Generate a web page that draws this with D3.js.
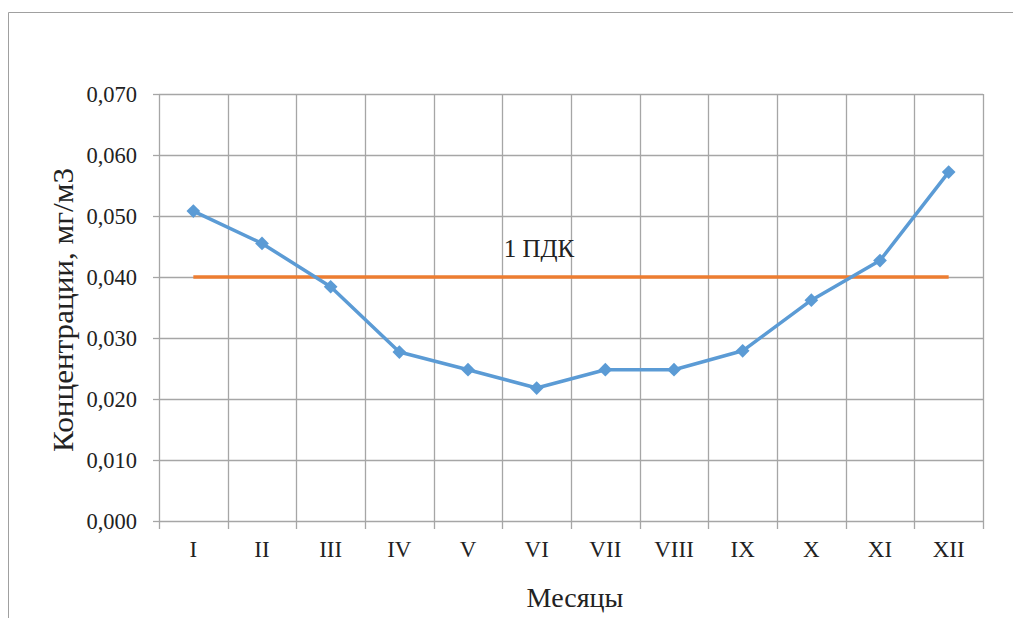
<!DOCTYPE html>
<html>
<head>
<meta charset="utf-8">
<script src="https://cdn.jsdelivr.net/npm/d3@7"></script>
<style>
  html, body { margin: 0; padding: 0; background: #fff; }
  svg { display: block; }
  text { font-family: "Liberation Serif", "DejaVu Serif", serif; fill: #222; }
</style>
</head>
<body>
<svg id="chart" width="1013" height="618"></svg>
<script>
// Monthly concentrations, mg/m3
const months = ["I", "II", "III", "IV", "V", "VI", "VII", "VIII", "IX", "X", "XI", "XII"];
const concentration = [0.0508, 0.0455, 0.0384, 0.0277, 0.0248, 0.0218, 0.0248, 0.0248, 0.0279, 0.0362, 0.0427, 0.0572];
const limitValue = 0.040;           // 1 ПДК
const yTicks = [0, 0.01, 0.02, 0.03, 0.04, 0.05, 0.06, 0.07];

const svg = d3.select("#chart");
const m = { left: 159, right: 983, top: 94, bottom: 521 };
const serif = "Liberation Serif, serif";

// outer frame
svg.append("path")
  .attr("d", `M8.5,618 V12.5 H1013`)
  .attr("fill", "none").attr("stroke", "#a0a0a0").attr("stroke-width", 1);

const x = d3.scaleBand().domain(months).range([m.left, m.right]).padding(0);
const y = d3.scaleLinear().domain([0, 0.07]).range([m.bottom, m.top]);
const fmt = v => d3.format(".3f")(v).replace(".", ",");

// horizontal gridlines
svg.append("g").selectAll("line").data(yTicks).join("line")
  .attr("x1", m.left).attr("x2", m.right)
  .attr("y1", d => Math.round(y(d)) + 0.5).attr("y2", d => Math.round(y(d)) + 0.5)
  .attr("stroke", "#a6a6a6").attr("stroke-width", 1.3);

// vertical gridlines at band boundaries (with tick extensions below axis)
const bounds = months.map(d => x(d)).concat([m.right]);
svg.append("g").selectAll("line").data(bounds).join("line")
  .attr("x1", d => Math.round(d) + 0.5).attr("x2", d => Math.round(d) + 0.5)
  .attr("y1", m.top).attr("y2", m.bottom + 8)
  .attr("stroke", "#a6a6a6").attr("stroke-width", 1.3);

// y-axis ticks and labels
const yAxis = d3.axisLeft(y).tickValues(yTicks).tickFormat(fmt).tickSize(6).tickPadding(16);
const gy = svg.append("g").attr("transform", `translate(${m.left},0)`).call(yAxis);
gy.select(".domain").remove();
gy.selectAll(".tick line").attr("stroke", "#a6a6a6").attr("stroke-width", 1.3);
gy.selectAll(".tick text").attr("font-size", 22.5).attr("font-family", serif).attr("fill", "#222");

// x-axis labels
const xAxis = d3.axisBottom(x).tickSize(0).tickPadding(20);
const gx = svg.append("g").attr("transform", `translate(0,${m.bottom})`).call(xAxis);
gx.select(".domain").remove();
gx.selectAll(".tick text").attr("font-size", 23).attr("font-family", serif).attr("fill", "#222");

// limit line (1 ПДК)
svg.append("line")
  .attr("x1", x(months[0]) + x.bandwidth() / 2)
  .attr("x2", x(months[months.length - 1]) + x.bandwidth() / 2)
  .attr("y1", y(limitValue)).attr("y2", y(limitValue))
  .attr("stroke", "#ed7d31").attr("stroke-width", 3.5);

svg.append("text")
  .attr("x", 539).attr("y", 257)
  .attr("text-anchor", "middle").attr("font-size", 25)
  .text("1 ПДК");

// concentration series
const line = d3.line()
  .x((d, i) => x(months[i]) + x.bandwidth() / 2)
  .y(d => y(d));
svg.append("path").datum(concentration)
  .attr("d", line)
  .attr("fill", "none").attr("stroke", "#5b9bd5").attr("stroke-width", 3.5)
  .attr("stroke-linejoin", "round");

svg.append("g").selectAll("path").data(concentration).join("path")
  .attr("d", d3.symbol(d3.symbolDiamond2, 120))
  .attr("transform", (d, i) => `translate(${x(months[i]) + x.bandwidth() / 2},${y(d)})`)
  .attr("fill", "#5b9bd5");

// axis titles
svg.append("text")
  .attr("x", 575).attr("y", 607)
  .attr("text-anchor", "middle").attr("font-size", 28)
  .text("Месяцы");

svg.append("text")
  .attr("transform", `translate(73,310) rotate(-90)`)
  .attr("text-anchor", "middle").attr("font-size", 30)
  .attr("textLength", 284).attr("lengthAdjust", "spacingAndGlyphs")
  .text("Концентрации, мг/м3");
</script>
</body>
</html>
